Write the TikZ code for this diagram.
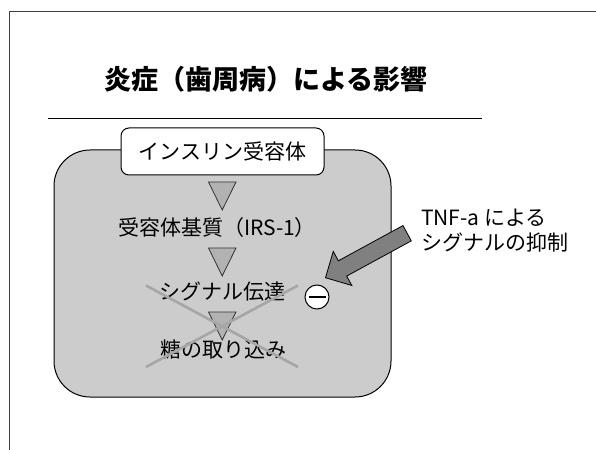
\documentclass[tikz,border=0pt]{standalone}
\usepackage{fontspec}
\setmainfont{Noto Sans CJK JP}
\usepackage{tikz}
\usetikzlibrary{shapes,arrows}
\usepackage{xcolor}
\definecolor{boxgray}{HTML}{CCCCCC}
\definecolor{trigray}{HTML}{B2B2B2}
\definecolor{arrowgray}{HTML}{808080}
\definecolor{crossgray}{HTML}{A6A6A6}

\begin{document}
\begin{tikzpicture}[x=1bp,y=-1bp,
        body/.style={font=\fontsize{21bp}{25bp}\selectfont, inner sep=0pt},
        tri/.style={draw=black!80, fill=trigray, line width=0.8bp, line join=miter},
        cross/.style={draw=crossgray, line width=2.6bp}]
        \useasboundingbox (0,0) rectangle (596,450);
        %draw the slide frame and the title
        \draw[black!75, line width=0.9bp] (596,11) -- (9,11) -- (9,450);
        \node[font=\fontsize{27bp}{30bp}\selectfont\bfseries, inner sep=0pt] (title) at (266,79) {炎症（歯周病）による影響};
        \draw[line width=0.9bp] (48,118) -- (482,118);

        %the grey cell and the receptor box on top of it
        \draw[fill=boxgray, line width=1bp, rounded corners=36bp] (54,150) rectangle (391,397);
        \node[body, draw, fill=white, line width=1bp, rounded corners=8bp,
              minimum width=203bp, minimum height=47bp] (ins) at (222.5,151.5) {インスリン受容体};

        %the steps of the signal
        \node[body] (irs) at (217,228) {受容体基質（IRS-1）};
        \node[body] (sig) at (222.5,292) {シグナル伝達};
        \node[body] (glu) at (223,350) {糖の取り込み};
        \foreach \y in {182,248,312}
        \draw[tri] (208.5,\y) -- (236,\y) -- (222.2,\y+28) -- cycle;

        %cross out the last two steps
        \coordinate (xa) at (146,285.5);
        \coordinate (xb) at (298,367);
        \coordinate (xc) at (146,367);
        \coordinate (xd) at (298,285.5);
        \draw[cross] (xa) -- (xb);
        \draw[cross] (xc) -- (xd);

        %the inhibition by TNF-a
        \node[draw, circle, fill=white, line width=1bp, minimum size=24bp, inner sep=0pt] (minus) at (317,297) {};
        \draw[line width=1.6bp] ([xshift=4bp]minus.west) -- ([xshift=-4bp]minus.east);
        \node[single arrow, draw, fill=arrowgray, line width=0.8bp, inner sep=8.3bp,
              minimum height=93bp, single arrow head extend=10.7bp,
              rotate=208.6, anchor=tip] (tnfarrow) at (325,278) {};
        \node[font=\fontsize{21bp}{25bp}\selectfont, align=left, anchor=west, inner sep=0pt] (tnf) at (421,230.5) {TNF-a による\\シグナルの抑制};
\end{tikzpicture}
\end{document}
